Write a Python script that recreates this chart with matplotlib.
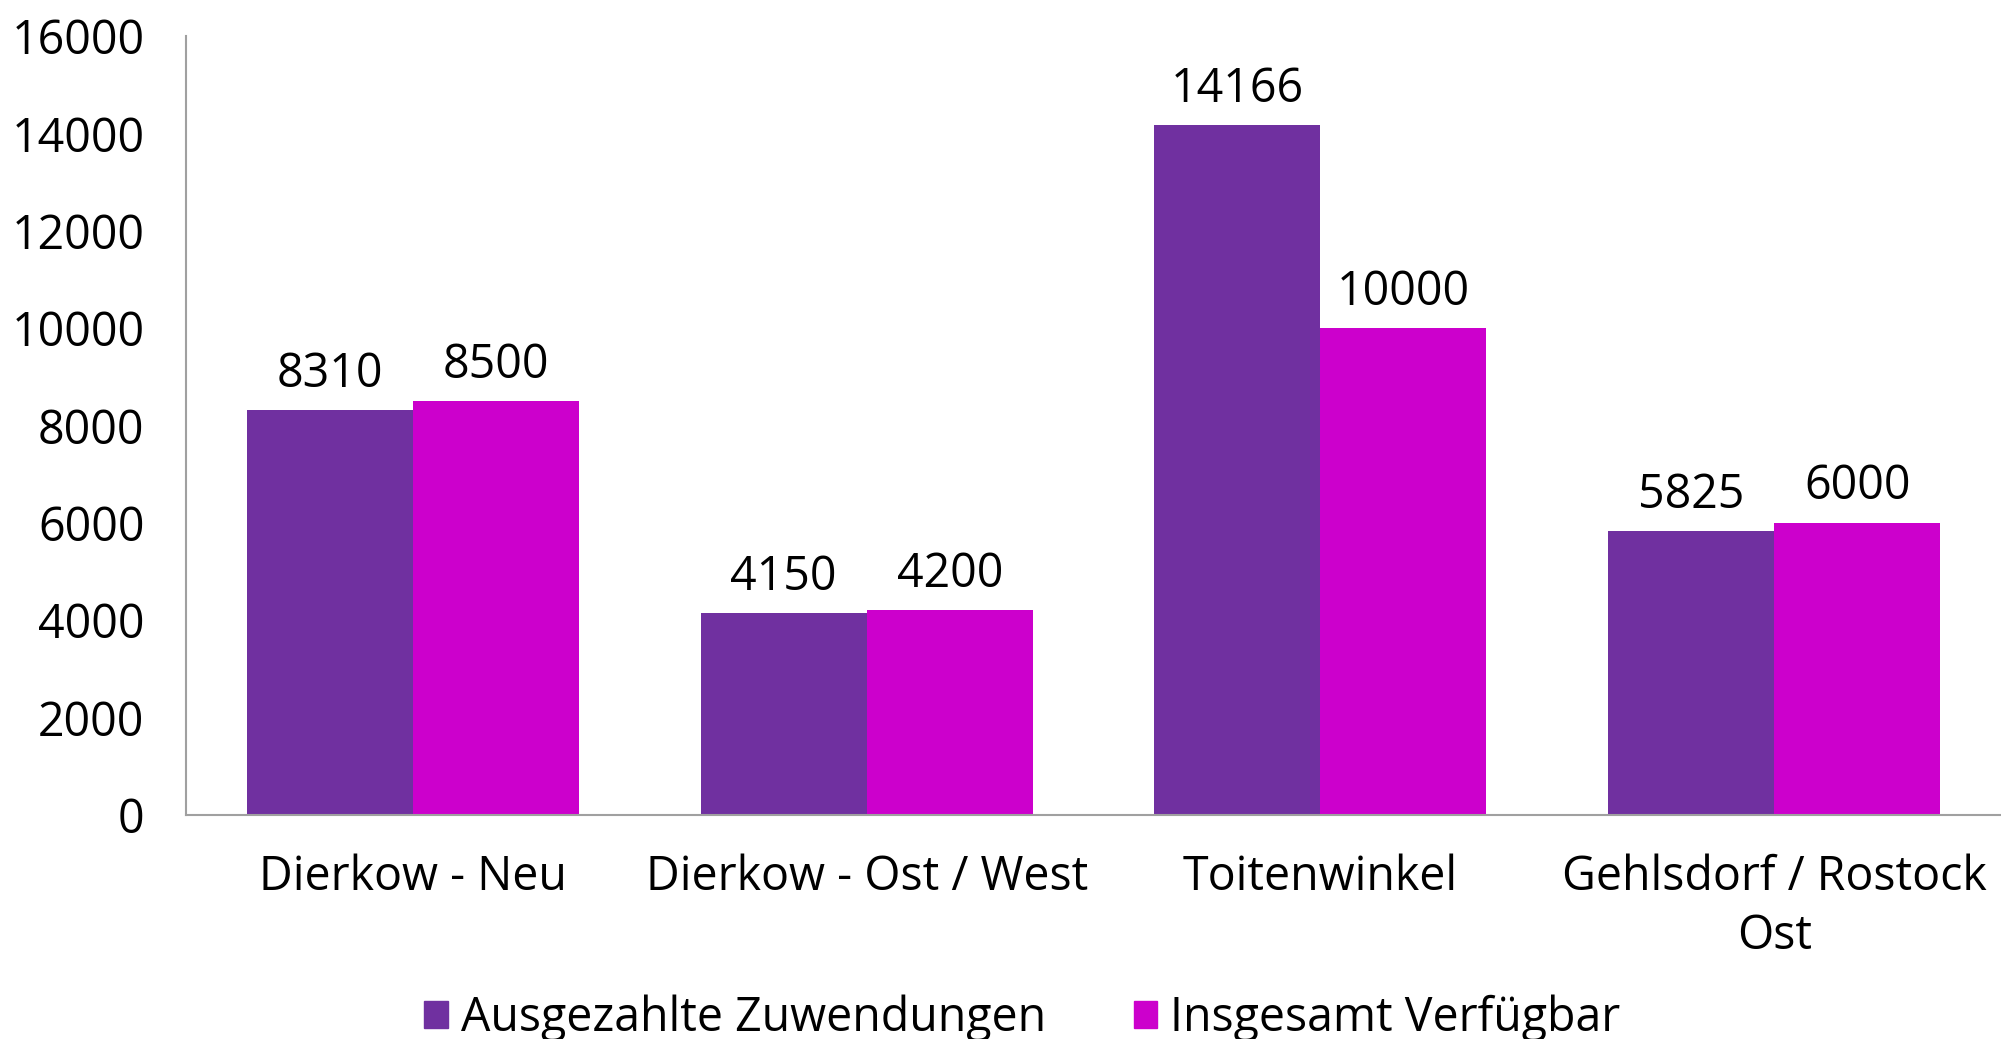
import matplotlib.pyplot as plt
import numpy as np
from matplotlib.patches import Patch

# ── Data ───────────────────────────────────────────────────────────────
categories = ['Dierkow - Neu', 'Dierkow - Ost / West', 'Toitenwinkel', 'Gehlsdorf / Rostock\nOst']
ausgezahlt = [8310, 4150, 14166, 5825]
verfuegbar = [8500, 4200, 10000, 6000]
series_names = ['Ausgezahlte Zuwendungen', 'Insgesamt Verfügbar']
y_ticks = [0, 2000, 4000, 6000, 8000, 10000, 12000, 14000, 16000]

# ── Style ──────────────────────────────────────────────────────────────
PURPLE = '#7030A0'
MAGENTA = '#CC00CC'
SPINE = '#A0A0A0'
FS = 33.5
plt.rcParams['font.family'] = ['Open Sans', 'DejaVu Sans']

fig = plt.figure(figsize=(20.01, 10.39), dpi=100)
ax = fig.add_axes([0.093, 0.2156, 0.907, 0.7498])

x = np.arange(len(categories))
w = 0.366
b1 = ax.bar(x - w / 2, ausgezahlt, w, color=PURPLE)
b2 = ax.bar(x + w / 2, verfuegbar, w, color=MAGENTA)

for bars, vals in ((b1, ausgezahlt), (b2, verfuegbar)):
    for r, v in zip(bars, vals):
        ax.annotate(f'{v}', (r.get_x() + r.get_width() / 2, v), xytext=(0, 26),
                    textcoords='offset points', ha='center', va='center', fontsize=FS)

ax.set_xlim(-0.5, 3.5)
ax.set_ylim(0, 16000)
ax.set_yticks(y_ticks)
ax.set_yticklabels([str(t) for t in y_ticks])
ax.set_xticks(x)
ax.set_xticklabels(categories, linespacing=1.3)
ax.tick_params(axis='y', length=0, pad=30, labelsize=FS)
ax.tick_params(axis='x', length=0, pad=28, labelsize=FS)
for s in ('top', 'right'):
    ax.spines[s].set_visible(False)
for s in ('left', 'bottom'):
    ax.spines[s].set_color(SPINE)
    ax.spines[s].set_linewidth(1.5)

handles = [Patch(color=PURPLE), Patch(color=MAGENTA)]
fig.legend(handles, series_names, loc='center', bbox_to_anchor=(0.511, 0.02), ncol=2,
           frameon=False, fontsize=FS, handlelength=0.5, handleheight=0.5,
           handletextpad=0.28, columnspacing=1.9)

fig.savefig('out.png', dpi=100)
